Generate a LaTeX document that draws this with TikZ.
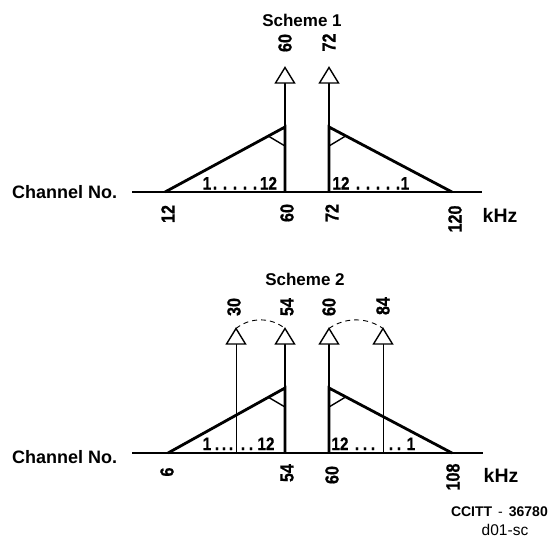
\documentclass[tikz,border=0pt]{standalone}
\usepackage{fontspec}
\setmainfont{Liberation Sans}
\newfontfamily\narrowfont{Liberation Sans}[FakeStretch=0.85, BoldFeatures={FakeBold=0.8}]
\usetikzlibrary{calc}
\begin{document}
\begin{tikzpicture}[x=1pt,y=-1pt,
  axisline/.style={line width=2.5pt},
  band/.style={line width=2.8pt, line join=miter},
  anglemark/.style={line width=1.4pt},
  pilotline/.style={line width=1.3pt},
  thinpilot/.style={line width=0.9pt},
  pilothead/.style={line width=1.4pt, fill=white, line join=miter},
  linkarc/.style={line width=0.9pt, dash pattern=on 5pt off 4pt},
  freq/.style={font=\narrowfont\bfseries\fontsize{19}{19}\selectfont, rotate=90, inner sep=0pt},
  chan/.style={font=\narrowfont\bfseries\fontsize{18}{18}\selectfont, inner sep=0pt, anchor=base},
  title/.style={font=\bfseries\fontsize{17}{17}\selectfont, inner sep=0pt},
  unit/.style={font=\bfseries\fontsize{19.5}{19.5}\selectfont, inner sep=0pt},
  axislabel/.style={font=\bfseries\fontsize{18}{18}\selectfont, inner sep=0pt, anchor=west},
]
\useasboundingbox (0,0) rectangle (553,539);

% open triangle marking a pilot carrier, drawn on top of its base point
\newcommand\pilottri[1]{%
  \draw[pilothead] ($(#1)+(-9.5,0)$) -- ($(#1)+(9.5,0)$) -- ($(#1)+(0,-15.5)$) -- cycle;}

% ---------------- Scheme 1 ----------------
\node[title] (s1) at (302,20) {Scheme 1};
\coordinate (X1a) at (132,192);
\coordinate (X1b) at (482,192);
\coordinate (L1) at (165,192);
\coordinate (A1) at (285,127);
\coordinate (F1) at (285,192);
\coordinate (A1r) at (329,127);
\coordinate (F1r) at (329,192);
\coordinate (R1) at (452,192);
\coordinate (P1a) at (285,83);
\coordinate (P1b) at (329,83);

\node[axislabel] (ch1) at (12,192) {Channel No.};
\draw[axisline] (X1a) -- (X1b);
\draw[band] (L1) -- (A1) -- (F1);
\draw[band] (R1) -- (A1r) -- (F1r);
\draw[anglemark] ($(A1)!19pt!(L1)$) -- ($(A1)!19pt!(F1)$);
\draw[anglemark] ($(A1r)!19pt!(R1)$) -- ($(A1r)!19pt!(F1r)$);
\draw[pilotline] (A1) -- (P1a);
\draw[pilotline] (A1r) -- (P1b);
\pilottri{P1a}
\pilottri{P1b}

\node[freq] (t60) at (285,43) {60};
\node[freq] (t72) at (329,42.5) {72};
\node[freq] (b12) at (168,214) {12};
\node[freq] (b60) at (287,213) {60};
\node[freq] (b72) at (332,213) {72};
\node[freq] (b120) at (455,219) {120};
\node[unit] (khz1) at (500,215) {kHz};

\node[chan] (c1l) at (207,189.5) {1};
\foreach \x [count=\i] in {215,225,235,245,255}
  \node[chan] (c1ld\i) at (\x,189.5) {.};
\node[chan] (c1lr) at (268.5,189.5) {12};
\node[chan] (c1rl) at (341,189.5) {12};
\foreach \x [count=\i] in {358,368,378,388,398}
  \node[chan] (c1rd\i) at (\x,189.5) {.};
\node[chan] (c1rr) at (405,189.5) {1};

% ---------------- Scheme 2 ----------------
\node[title] (s2) at (305,279) {Scheme 2};
\coordinate (X2a) at (132,453);
\coordinate (X2b) at (483,453);
\coordinate (L2) at (168,453);
\coordinate (A2) at (285,388);
\coordinate (F2) at (285,453);
\coordinate (A2r) at (329,388);
\coordinate (F2r) at (329,453);
\coordinate (R2) at (452,453);
\coordinate (G30) at (236,453);
\coordinate (G84) at (383,453);
\coordinate (P30) at (236,344);
\coordinate (P54) at (285,344);
\coordinate (P60) at (329,344);
\coordinate (P84) at (383,344);

\node[axislabel] (ch2) at (12,457) {Channel No.};
\draw[axisline] (X2a) -- (X2b);
\draw[band] (L2) -- (A2) -- (F2);
\draw[band] (R2) -- (A2r) -- (F2r);
\draw[anglemark] ($(A2)!19pt!(L2)$) -- ($(A2)!19pt!(F2)$);
\draw[anglemark] ($(A2r)!19pt!(R2)$) -- ($(A2r)!19pt!(F2r)$);
\draw[thinpilot] (G30) -- (P30);
\draw[pilotline] (A2) -- (P54);
\draw[pilotline] (A2r) -- (P60);
\draw[thinpilot] (G84) -- (P84);
\pilottri{P30}
\pilottri{P54}
\pilottri{P60}
\pilottri{P84}
\draw[linkarc] ($(P30)+(0,-15.5)$) .. controls (250,317) and (271,317) .. ($(P54)+(0,-15.5)$);
\draw[linkarc] ($(P60)+(0,-15.5)$) .. controls (345,317) and (367,317) .. ($(P84)+(0,-15.5)$);

\node[freq] (t30) at (234,307) {30};
\node[freq] (t54) at (287,307) {54};
\node[freq] (t60b) at (329,307) {60};
\node[freq] (t84) at (383,306) {84};
\node[freq] (b6) at (167,472) {6};
\node[freq] (b54) at (287,473) {54};
\node[freq] (b60b) at (332,475) {60};
\node[freq] (b108) at (453,477) {108};
\node[unit] (khz2) at (501,475) {kHz};

\node[chan] (c2l) at (207,450) {1};
\foreach \x [count=\i] in {217,224,231,243,251}
  \node[chan] (c2ld\i) at (\x,450) {.};
\node[chan] (c2lr) at (266,450) {12};
\node[chan] (c2rl) at (340,450) {12};
\foreach \x [count=\i] in {357,365,373,391,399}
  \node[chan] (c2rd\i) at (\x,450) {.};
\node[chan] (c2rr) at (411,450) {1};

% ---------------- Reference mark ----------------
\node[font=\fontsize{14}{14}\selectfont, inner sep=0pt, anchor=east] (ref) at (548,512)
  {\textbf{CCITT}\kern6pt-\kern6pt\textbf{36780}};
\node[font=\fontsize{15.5}{15.5}\selectfont, inner sep=0pt] (doc) at (505,530) {d01-sc};
\end{tikzpicture}
\end{document}
